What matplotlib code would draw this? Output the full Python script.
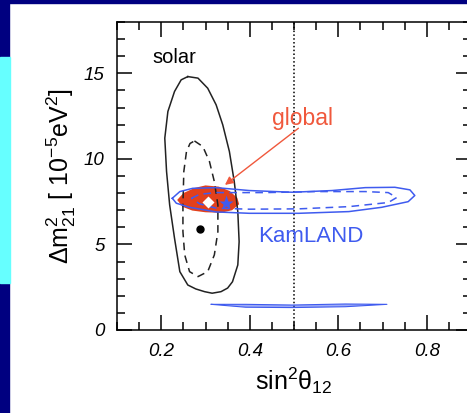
import numpy as np
import matplotlib.pyplot as plt
from matplotlib.patches import Rectangle
from matplotlib.ticker import MultipleLocator

# contours: x = sin^2(theta12), y = dm2_21 [1e-5 eV^2]
solar_out_x = [0.260, 0.283, 0.305, 0.324, 0.339, 0.354, 0.365, 0.373, 0.376, 0.373, 0.361,
               0.350, 0.335, 0.315, 0.298, 0.278, 0.260, 0.242, 0.230, 0.219, 0.212, 0.208,
               0.215, 0.230, 0.245]
solar_out_y = [14.81, 14.72, 14.13, 13.16, 11.99, 10.43, 8.67, 6.92, 5.16, 3.80, 2.82,
               2.45, 2.24, 2.15, 2.24, 2.40, 2.63, 3.41, 5.36, 7.31, 9.26, 11.21,
               12.77, 13.94, 14.62]

solar_in_x = [0.275, 0.294, 0.309, 0.320, 0.328, 0.328, 0.320, 0.305, 0.283, 0.264, 0.253,
              0.249, 0.249, 0.251, 0.257, 0.265]
solar_in_y = [11.05, 10.72, 9.84, 8.67, 7.31, 5.75, 4.39, 3.41, 3.12, 3.41, 4.39,
              5.75, 7.31, 9.26, 10.43, 10.90]

kam_out_x = [0.225, 0.242, 0.271, 0.324, 0.399, 0.496, 0.586, 0.661, 0.728, 0.762, 0.773,
             0.758, 0.698, 0.624, 0.511, 0.399, 0.324, 0.264, 0.234]
kam_out_y = [7.70, 8.09, 8.28, 8.32, 8.15, 8.05, 8.15, 8.32, 8.34, 8.19, 7.86,
             7.50, 7.17, 6.92, 6.82, 6.82, 6.90, 7.17, 7.41]

kam_in_x = [0.268, 0.287, 0.324, 0.436, 0.549, 0.661, 0.713, 0.732, 0.713, 0.624, 0.511,
            0.399, 0.324, 0.287]
kam_in_y = [7.70, 7.93, 8.03, 8.03, 8.09, 8.09, 8.03, 7.74, 7.45, 7.21, 7.08,
            7.06, 7.12, 7.37]

kam_low_x = [0.313, 0.391, 0.496, 0.616, 0.710, 0.616, 0.496, 0.391]
kam_low_y = [1.50, 1.50, 1.46, 1.52, 1.50, 1.36, 1.31, 1.33]

glob_x = [0.236, 0.250, 0.275, 0.300, 0.330, 0.355, 0.372, 0.376, 0.360, 0.335, 0.300, 0.270, 0.248]
glob_y = [7.60, 8.00, 8.30, 8.45, 8.38, 8.12, 7.72, 7.35, 7.00, 6.85, 6.88, 6.98, 7.20]

solar_best = (0.287, 5.91)
global_best = (0.305, 7.50)
kam_best = (0.347, 7.45)

xticks = [0.2, 0.4, 0.6, 0.8]
yticks = [0, 5, 10, 15]

blue = '#3f5bef'
red = '#e2401c'


def closed(xs, ys):
    return list(xs) + [xs[0]], list(ys) + [ys[0]]


plt.rcParams['font.family'] = ['Liberation Sans', 'DejaVu Sans']
plt.rcParams['mathtext.fontset'] = 'custom'
plt.rcParams['mathtext.rm'] = 'Liberation Sans'
plt.rcParams['mathtext.it'] = 'Liberation Sans:italic'

fig = plt.figure(figsize=(4.67, 4.13), dpi=100)
fig.patches.append(Rectangle((0, 0), 9 / 467, 1, transform=fig.transFigure, color='#000080', zorder=-1))
fig.patches.append(Rectangle((0, 130 / 413), 10 / 467, 226 / 413, transform=fig.transFigure,
                             color='#66ffff', zorder=-1))
fig.patches.append(Rectangle((0, 1 - 3 / 413), 1, 3 / 413, transform=fig.transFigure, color='#000080', zorder=-1))

ax = fig.add_axes([117 / 467, 83 / 413, 354 / 467, 308 / 413])

ax.fill(glob_x, glob_y, color=red, lw=0, zorder=2)

x, y = closed(solar_out_x, solar_out_y)
ax.plot(x, y, color='#222222', lw=1.1, zorder=3)
x, y = closed(solar_in_x, solar_in_y)
ax.plot(x, y, color='#222222', lw=1.1, ls=(0, (5, 3.5)), zorder=3)
ax.plot(*solar_best, 'o', color='black', ms=5, zorder=4)

x, y = closed(kam_out_x, kam_out_y)
ax.plot(x, y, color=blue, lw=1.1, zorder=3)
x, y = closed(kam_in_x, kam_in_y)
ax.plot(x, y, color=blue, lw=1.1, ls=(0, (5, 3.5)), zorder=3)
x, y = closed(kam_low_x, kam_low_y)
ax.fill(x, y, color=blue, alpha=0.5, lw=0, zorder=3)
ax.plot(x, y, color=blue, lw=0.8, zorder=3)

ax.plot(*global_best, 'D', color='white', ms=6, mec='none', zorder=5)
ax.plot(*kam_best, '*', color=blue, ms=11, mec='none', zorder=5)

ax.axvline(0.5, color='black', lw=1.1, ls=(0, (1, 1.5)), zorder=1)

ax.text(0.181, 15.6, 'solar', fontsize=14.5, color='black', ha='left', va='baseline')
ax.text(0.451, 12.0, 'global', fontsize=16.5, color='#f0583c', ha='left', va='baseline')
ax.text(0.418, 5.16, 'KamLAND', fontsize=16, color=blue, ha='left', va='baseline')
ax.annotate('', xy=(0.339, 8.38), xytext=(0.515, 11.89),
            arrowprops=dict(arrowstyle='-|>', color='#f0583c', lw=1.0, mutation_scale=12))

ax.set_xlim(0.1, 0.9)
ax.set_ylim(0, 18)
ax.set_xticks(xticks)
ax.set_yticks(yticks)
ax.set_xticklabels([f'{v:.1f}' for v in xticks], fontstyle='italic')
ax.set_yticklabels([str(v) for v in yticks], fontstyle='italic')
ax.xaxis.set_minor_locator(MultipleLocator(0.05))
ax.yaxis.set_minor_locator(MultipleLocator(1))
ax.tick_params(which='both', direction='in', top=True, right=True, width=1.1, labelsize=13.5, pad=9)
ax.tick_params(which='major', length=11)
ax.tick_params(which='minor', length=6)
for s in ax.spines.values():
    s.set_linewidth(1.1)

ax.set_xlabel(r'$\mathregular{sin^2\theta_{12}}$', fontsize=18, labelpad=4)
ax.set_ylabel(r'$\mathregular{\Delta m^2_{21}\ [\ 10^{-5}eV^2]}$', fontsize=18, labelpad=4)

fig.savefig('out.png', dpi=100, facecolor='white')
